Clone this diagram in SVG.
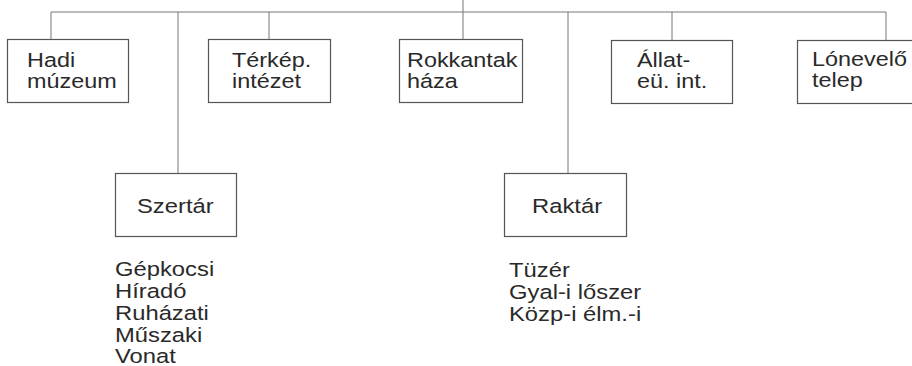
<svg xmlns="http://www.w3.org/2000/svg" width="912" height="366" viewBox="0 0 912 366">
<style>
.box{fill:#fff;stroke:#555;stroke-width:1.2}
.ln{fill:none;stroke:#777;stroke-width:1}
text{font-family:"Liberation Sans",Arial,sans-serif;font-size:19.5px;fill:#2a2a2a}
</style>
<rect width="912" height="366" fill="#fff"/>
<g id="connectors">
<path class="ln" d="M51 12H886M463 0V39M51 12V39M178 12V173M269 12V39M568 12V173M672 12V40M886 12V40"/>
</g>
<g id="hadi">
<rect class="box" x="7.5" y="39.5" width="121" height="63"/>
<text transform="translate(27 67) scale(1.2 1)">Hadi</text>
<text transform="translate(27 88) scale(1.2 1)">múzeum</text>
</g>
<g id="terkep">
<rect class="box" x="208.5" y="39.5" width="122" height="63"/>
<text transform="translate(232 67) scale(1.2 1)">Térkép.</text>
<text transform="translate(232 88) scale(1.2 1)">intézet</text>
</g>
<g id="rokkantak">
<rect class="box" x="399.5" y="39.5" width="123" height="63"/>
<text transform="translate(407 67) scale(1.2 1)">Rokkantak</text>
<text transform="translate(407 88) scale(1.2 1)">háza</text>
</g>
<g id="allat">
<rect class="box" x="611.5" y="40.5" width="121" height="63"/>
<text transform="translate(637 67) scale(1.2 1)">Állat-</text>
<text transform="translate(637 88) scale(1.2 1)">eü. int.</text>
</g>
<g id="lonevelo">
<rect class="box" x="797.5" y="40.5" width="125" height="63"/>
<text transform="translate(812 66) scale(1.2 1)">Lónevelő</text>
<text transform="translate(812 87) scale(1.2 1)">telep</text>
</g>
<g id="szertar">
<rect class="box" x="115.5" y="173.5" width="121" height="63"/>
<text transform="translate(137 213) scale(1.22 1)">Szertár</text>
<text transform="translate(115 276) scale(1.22 1)">Gépkocsi</text>
<text transform="translate(115 298) scale(1.22 1)">Híradó</text>
<text transform="translate(115 320) scale(1.22 1)">Ruházati</text>
<text transform="translate(115 342) scale(1.22 1)">Műszaki</text>
<text transform="translate(115 363) scale(1.22 1)">Vonat</text>
</g>
<g id="raktar">
<rect class="box" x="504.5" y="173.5" width="122" height="63"/>
<text transform="translate(532 213) scale(1.22 1)">Raktár</text>
<text transform="translate(509 277) scale(1.22 1)">Tüzér</text>
<text transform="translate(509 299) scale(1.22 1)">Gyal-i lőszer</text>
<text transform="translate(509 321) scale(1.22 1)">Közp-i élm.-i</text>
</g>
</svg>
